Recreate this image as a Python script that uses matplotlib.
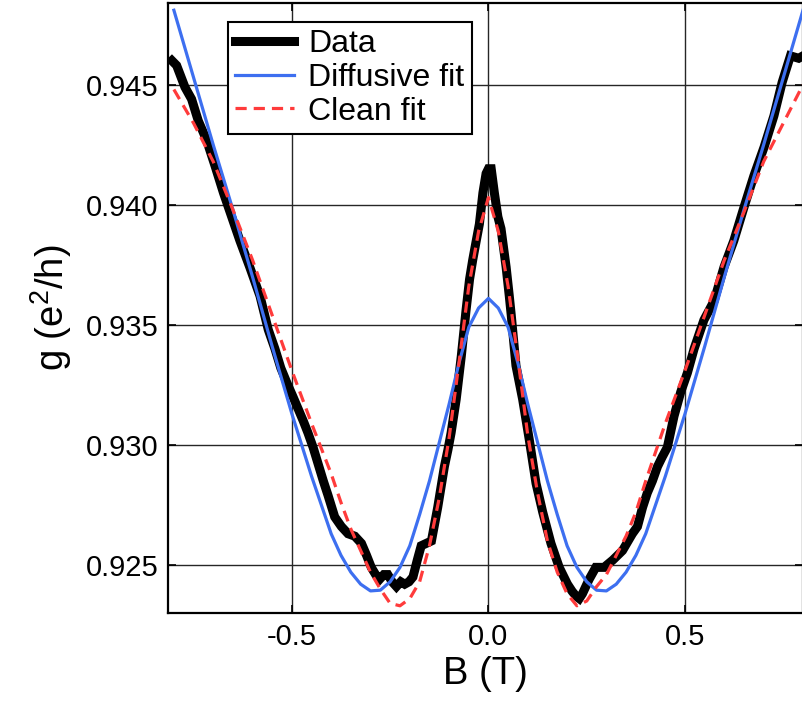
import matplotlib
matplotlib.use("Agg")
import matplotlib.pyplot as plt
import numpy as np

plt.rcParams['font.family'] = ['Liberation Sans', 'DejaVu Sans']
plt.rcParams['mathtext.fontset'] = 'custom'
plt.rcParams['mathtext.rm'] = 'Liberation Sans'
plt.rcParams['mathtext.default'] = 'regular'
plt.rcParams['axes.unicode_minus'] = False

data_b = [-0.805, -0.793, -0.772, -0.755, -0.738, -0.717, -0.695, -0.674, -0.653,
          -0.632, -0.607, -0.581, -0.560, -0.543, -0.528, -0.513, -0.497, -0.484,
          -0.471, -0.459, -0.446, -0.433, -0.420, -0.408, -0.391, -0.374, -0.357,
          -0.340, -0.323, -0.310, -0.298, -0.287, -0.277, -0.266, -0.256, -0.245,
          -0.234, -0.223, -0.213, -0.202, -0.192, -0.181, -0.171, -0.158, -0.145,
          -0.137, -0.129, -0.120, -0.112, -0.103, -0.095, -0.082, -0.069, -0.057,
          -0.048, -0.040, -0.031, -0.023, -0.014, -0.006, 0.000, 0.007, 0.015,
          0.024, 0.032, 0.045, 0.053, 0.058, 0.070, 0.087, 0.104, 0.121, 0.138,
          0.159, 0.180, 0.201, 0.213, 0.223, 0.231, 0.239, 0.256, 0.273, 0.294,
          0.316, 0.341, 0.366, 0.379, 0.392, 0.404, 0.417, 0.430, 0.442, 0.455,
          0.472, 0.489, 0.506, 0.523, 0.548, 0.574, 0.599, 0.624, 0.650, 0.675,
          0.701, 0.726, 0.747, 0.768, 0.789, 0.800]
data_g = [0.9460, 0.9458, 0.9449, 0.9444, 0.9435, 0.9427, 0.9416, 0.9405, 0.9395,
          0.9385, 0.9374, 0.9362, 0.9348, 0.9340, 0.9332, 0.9326, 0.9320, 0.9315,
          0.9310, 0.9305, 0.9299, 0.9292, 0.9285, 0.9279, 0.9270, 0.9266, 0.9263,
          0.9262, 0.9259, 0.9254, 0.9249, 0.9246, 0.9244, 0.9246, 0.9246, 0.9243,
          0.9241, 0.9243, 0.9242, 0.9243, 0.9245, 0.9252, 0.9258, 0.9259, 0.9260,
          0.9267, 0.9274, 0.9283, 0.9291, 0.9298, 0.9305, 0.9319, 0.9337, 0.9356,
          0.9369, 0.9377, 0.9385, 0.9392, 0.9405, 0.9413, 0.9415, 0.9415, 0.9405,
          0.9395, 0.9390, 0.9374, 0.9362, 0.9354, 0.9333, 0.9319, 0.9302, 0.9284,
          0.9272, 0.9259, 0.9249, 0.9242, 0.9239, 0.9237, 0.9236, 0.9238, 0.9244,
          0.9249, 0.9249, 0.9252, 0.9256, 0.9263, 0.9266, 0.9274, 0.9280, 0.9285,
          0.9291, 0.9295, 0.9299, 0.9312, 0.9322, 0.9330, 0.9340, 0.9352, 0.9360,
          0.9374, 0.9385, 0.9399, 0.9412, 0.9424, 0.9437, 0.9451, 0.9462, 0.9461,
          0.9462]

# fits
fit_b = [-0.80, -0.75, -0.70, -0.65, -0.60, -0.55, -0.50, -0.45, -0.40, -0.375,
         -0.35, -0.325, -0.30, -0.275, -0.25, -0.225, -0.20, -0.175, -0.15, -0.125,
         -0.10, -0.075, -0.05, -0.025, 0.0, 0.025, 0.05, 0.075, 0.10, 0.125, 0.15,
         0.175, 0.20, 0.225, 0.25, 0.275, 0.30, 0.325, 0.35, 0.375, 0.40, 0.45,
         0.50, 0.55, 0.60, 0.65, 0.70, 0.75, 0.80]
diffusive_g = [0.9481, 0.9453, 0.9425, 0.9398, 0.9370, 0.9341, 0.9313, 0.9287,
               0.9263, 0.9254, 0.9247, 0.9242, 0.92392, 0.92395, 0.9243, 0.9249,
               0.9258, 0.9271, 0.9285, 0.9301, 0.9317, 0.9334, 0.9349, 0.9357,
               0.9361, 0.9357, 0.9349, 0.9334, 0.9317, 0.9301, 0.9285, 0.9271,
               0.9258, 0.9249, 0.9243, 0.92395, 0.92392, 0.9242, 0.9247, 0.9254,
               0.9263, 0.9287, 0.9313, 0.9341, 0.9370, 0.9398, 0.9425, 0.9453,
               0.9481]
clean_g = [0.9448, 0.9434, 0.9418, 0.9398, 0.9377, 0.9354, 0.9331, 0.9309,
           0.9288, 0.9276, 0.9265, 0.9256, 0.9247, 0.9240, 0.9234, 0.9233,
           0.9236, 0.9243, 0.9258, 0.9278, 0.9303, 0.9334, 0.9366, 0.9389,
           0.9403, 0.9389, 0.9366, 0.9336, 0.9304, 0.9280, 0.9260, 0.9247,
           0.9238, 0.9233, 0.9235, 0.9241, 0.9246, 0.9254, 0.9262, 0.9272,
           0.9285, 0.9309, 0.9331, 0.9354, 0.9377, 0.9397, 0.9418, 0.9434,
           0.9450]

x_ticks = [-0.5, 0.0, 0.5]
y_ticks = [0.925, 0.930, 0.935, 0.940, 0.945]

fig = plt.figure(figsize=(8.03, 7.05), dpi=100)
ax = fig.add_axes([0.2092, 0.1305, 0.7908, 0.8652])

ax.plot(data_b, data_g, color='black', lw=6.5, solid_joinstyle='miter',
        label='Data', zorder=3)
ax.plot(fit_b, diffusive_g, color='#3d6ff0', lw=2.3, label='Diffusive fit',
        zorder=4)
ax.plot(fit_b, clean_g, color='#ff3b3b', lw=2.3, dashes=(3.5, 2.2),
        label='Clean fit', zorder=5)

ax.set_xlim(-0.815, 0.8)
ax.set_ylim(0.923, 0.9484)
ax.set_xticks(x_ticks)
ax.set_yticks(y_ticks)
ax.set_xticklabels(['%.1f' % v for v in x_ticks])
ax.set_yticklabels(['%.3f' % v for v in y_ticks])
ax.grid(True, color='0.15', lw=1.0)
ax.set_axisbelow(True)
ax.tick_params(direction='in', length=6, width=1.2, labelsize=21, pad=7,
               top=True, right=True)
for s in ax.spines.values():
    s.set_linewidth(1.6)

ax.set_xlabel('B (T)', fontsize=27.5, labelpad=4)
ax.set_ylabel('g (e$^{2}$/h)', fontsize=27.5, labelpad=8)

leg = ax.legend(loc='upper left', bbox_to_anchor=(0.0945, 0.969),
                borderaxespad=0, fontsize=23, handlelength=1.85,
                handletextpad=0.45, labelspacing=0.12, borderpad=0.22,
                fancybox=False, framealpha=1, edgecolor='black')
leg.get_frame().set_linewidth(1.5)

fig.savefig('out.png', dpi=100)
